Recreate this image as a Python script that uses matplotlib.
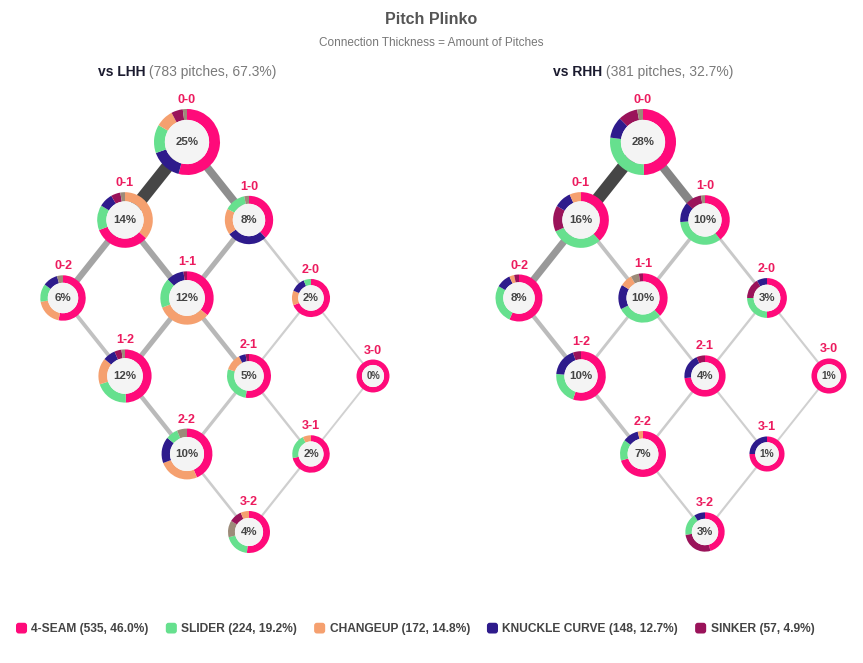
import matplotlib
matplotlib.use("Agg")
import matplotlib.pyplot as plt
from matplotlib.patches import Wedge, Circle, Patch, FancyBboxPatch
from matplotlib.legend_handler import HandlerPatch

plt.rcParams['font.family'] = ['Liberation Sans', 'DejaVu Sans']

# ---- data ----
pitch_types = ["4-SEAM", "SLIDER", "CHANGEUP", "KNUCKLE CURVE", "SINKER", "OTHER"]
pitch_colors = ["#ff0a7a", "#66e08e", "#f5a06f", "#2e1b8c", "#9a135a", "#9c8b79"]
legend_types = ["4-SEAM", "SLIDER", "CHANGEUP", "KNUCKLE CURVE", "SINKER"]
legend_counts = [535, 224, 172, 148, 57]

count_names = ["0-0", "0-1", "1-0", "0-2", "1-1", "2-0", "1-2", "2-1", "3-0", "2-2", "3-1", "3-2"]

# pitches thrown in each count, columns follow pitch_types
lhh_mix = [
    [105, 27, 17, 30, 11, 4],
    [36, 16, 40, 9, 6, 3],
    [24, 9, 11, 17, 0, 2],
    [25, 6, 9, 5, 0, 2],
    [34, 17, 31, 10, 2, 0],
    [11, 1, 2, 2, 0, 0],
    [46, 19, 15, 7, 4, 2],
    [21, 11, 5, 2, 1, 0],
    [3, 0, 0, 0, 0, 0],
    [34, 6, 20, 13, 0, 5],
    [10, 3, 1, 0, 0, 0],
    [16, 6, 2, 0, 3, 4],
]
rhh_mix = [
    [52, 29, 0, 11, 10, 3],
    [23, 18, 4, 6, 9, 0],
    [15, 13, 0, 5, 4, 1],
    [17, 8, 1, 3, 1, 0],
    [14, 11, 3, 6, 1, 2],
    [6, 3, 0, 1, 2, 0],
    [21, 8, 0, 7, 2, 0],
    [11, 0, 0, 3, 1, 0],
    [4, 0, 0, 0, 0, 0],
    [19, 4, 1, 3, 0, 0],
    [3, 0, 0, 1, 0, 0],
    [5, 2, 0, 1, 3, 0],
]

edges = [("0-0", "0-1"), ("0-0", "1-0"), ("0-1", "0-2"), ("0-1", "1-1"),
         ("1-0", "1-1"), ("1-0", "2-0"), ("0-2", "1-2"), ("1-1", "1-2"),
         ("1-1", "2-1"), ("2-0", "2-1"), ("2-0", "3-0"), ("1-2", "2-2"),
         ("2-1", "2-2"), ("2-1", "3-1"), ("3-0", "3-1"), ("2-2", "3-2"),
         ("3-1", "3-2")]
lhh_edge_pitches = [110, 63, 47, 45, 35, 10, 22, 35, 30, 6, 3, 28, 16, 8, 3, 10, 6]
rhh_edge_pitches = [60, 38, 30, 12, 11, 7, 15, 7, 6, 4, 3, 11, 5, 3, 2, 4, 3]

W, H = 863, 663
fig = plt.figure(figsize=(W / 100, H / 100), dpi=100)
ax = fig.add_axes([0, 0, 1, 1])
ax.set_xlim(0, W)
ax.set_ylim(H, 0)
ax.axis("off")

PT = 0.72  # points per pixel at 100 dpi
DX, DY = 62, 78
TOP = 142

grand_total = sum(sum(r) for r in lhh_mix) + sum(sum(r) for r in rhh_mix)


def node_xy(cx, name):
    b, s = int(name[0]), int(name[2])
    return cx + (b - s) * DX, TOP + (b + s) * DY


def draw_panel(cx, label, mix, edge_pitches):
    total = sum(sum(r) for r in mix)
    sizes = [sum(r) for r in mix]
    big = max(sizes)

    # header: bold part + gray part, centred together
    rest = f" ({total} pitches, {total / grand_total * 100:.1f}%)"
    t1 = ax.text(0, 72, label, fontsize=10, fontweight="bold", color="#1b1b2f",
                 ha="left", va="center")
    t2 = ax.text(0, 72, rest, fontsize=10, color="#7a7a7a", ha="left", va="center")
    rend = fig.canvas.get_renderer()
    w1 = t1.get_window_extent(rend).width
    w2 = t2.get_window_extent(rend).width
    x0 = cx - (w1 + w2) / 2
    t1.set_x(x0)
    t2.set_x(x0 + w1)

    # connections
    emax = max(edge_pitches)
    for (a, b), n in zip(edges, edge_pitches):
        f = n / emax
        g = (210 - 140 * f ** 1.3) / 255
        xa, ya = node_xy(cx, a)
        xb, yb = node_xy(cx, b)
        ax.plot([xa, xb], [ya, yb], color=(g, g, g), lw=(1.6 + 10.9 * f) * PT,
                solid_capstyle="butt", zorder=1)

    # donuts
    for name, row in zip(count_names, mix):
        x, y = node_xy(cx, name)
        n = sum(row)
        r = 15 + 18 * (n / big) ** 0.6
        ring = 0.33 * r
        order = sorted(range(len(row)), key=lambda i: -row[i])
        ang = -90.0
        for i in order:
            if row[i] == 0:
                continue
            sweep = 360.0 * row[i] / n
            ax.add_patch(Wedge((x, y), r, ang, ang + sweep, width=ring,
                               facecolor=pitch_colors[i], edgecolor="none", zorder=3))
            ang += sweep
        ax.add_patch(Circle((x, y), r - ring, facecolor="#f4f4f4",
                            edgecolor="none", zorder=4))
        fs = min(11.5, 0.58 * r) * PT
        ax.text(x, y, f"{n / total * 100:.0f}%", fontsize=fs, fontweight="bold",
                color="#444444", ha="center", va="center", zorder=5)
        ax.text(x, y - r - 9, name, fontsize=9, fontweight="bold",
                color="#ec1b5e", ha="center", va="center", zorder=5)


ax.text(W / 2, 19, "Pitch Plinko", fontsize=11.5, fontweight="bold",
        color="#555555", ha="center", va="center")
ax.text(W / 2, 43, "Connection Thickness = Amount of Pitches", fontsize=8.5,
        color="#777777", ha="center", va="center")

draw_panel(187, "vs LHH", lhh_mix, lhh_edge_pitches)
draw_panel(643, "vs RHH", rhh_mix, rhh_edge_pitches)


class RoundSquare(HandlerPatch):
    # small rounded swatch for the legend
    def create_artists(self, legend, orig_handle, xdescent, ydescent,
                       width, height, fontsize, trans):
        p = FancyBboxPatch((-xdescent, -ydescent), width, height,
                           boxstyle="round,pad=0,rounding_size=2",
                           facecolor=orig_handle.get_facecolor(),
                           edgecolor="none", transform=trans)
        return [p]


handles = [Patch(facecolor=pitch_colors[pitch_types.index(t)], edgecolor="none")
           for t in legend_types]
labels = [f"{t} ({c}, {c / grand_total * 100:.1f}%)"
          for t, c in zip(legend_types, legend_counts)]
fig.legend(handles, labels, loc="center left", bbox_to_anchor=(16 / W, 1 - 629 / H),
           ncol=5, frameon=False, borderpad=0, borderaxespad=0,
           handlelength=0.92, handleheight=1.0, handletextpad=0.36,
           columnspacing=1.42, labelcolor="#444444",
           handler_map={Patch: RoundSquare()},
           prop=dict(family=["Liberation Sans", "DejaVu Sans"],
                     weight="bold", size=8.65))

fig.savefig("out.png", dpi=100)
